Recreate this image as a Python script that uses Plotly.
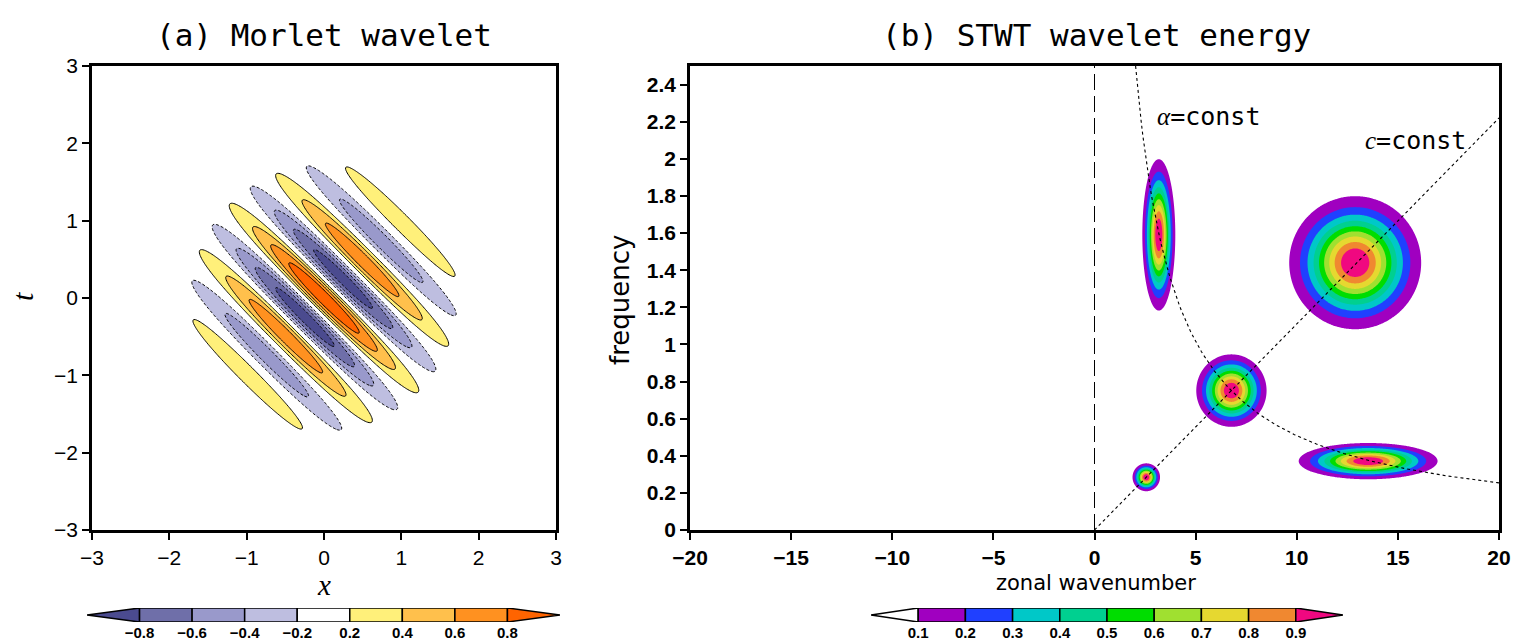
import numpy as np
import plotly.graph_objects as go

W, H = 1516, 640

# ---------------- panel (a): Morlet wavelet ----------------
morlet_ticks = [-3, -2, -1, 0, 1, 2, 3]
morlet_wavenumber = 2 * np.pi          # phase runs along (x + t)
morlet_sigma = 0.96                    # gaussian envelope width
morlet_cbar_labels = ["−0.8", "−0.6", "−0.4", "−0.2", "0.2", "0.4", "0.6", "0.8"]
# colour of each band: <-0.8, -0.8..-0.6, -0.6..-0.4, -0.4..-0.2, -0.2..0.2, 0.2..0.4, 0.4..0.6, 0.6..0.8, >0.8
morlet_band_colors = ["#4b4b8f", "#6f6fa9", "#9999cb", "#bebee0", "#ffffff",
                      "#fff07a", "#ffc04c", "#ff9120", "#ff6400"]

# ---------------- panel (b): STWT wavelet energy ----------------
blob_k = [2.56, 6.77, 13.53, 3.18, 12.89]        # centre wavenumber
blob_f = [0.284, 0.751, 0.371, 1.59, 1.44]       # centre frequency
blob_sk = [0.317, 0.81, 1.60, 0.38, 1.52]        # width in wavenumber
blob_sf = [0.035, 0.091, 0.0455, 0.19, 0.167]    # width in frequency
energy_cbar_labels = ["0.1", "0.2", "0.3", "0.4", "0.5", "0.6", "0.7", "0.8", "0.9"]
# <0.1, 0.1..0.2, ..., 0.8..0.9, >0.9
energy_band_colors = ["#ffffff", "#a000c0", "#2040ff", "#00c8c8", "#00d090",
                      "#00dd00", "#a0e030", "#e6d830", "#f08830", "#f00880"]
c_const = 0.111          # phase speed line  f = c k
alpha_const = 5.08       # scale line        f = alpha / k
x_ticks_b = [-20, -15, -10, -5, 0, 5, 10, 15, 20]

fig = go.Figure()

# ---- panel (a) contours ----
xs = np.linspace(-3, 3, 361)
ts = np.linspace(-3, 3, 361)
X, T = np.meshgrid(xs, ts)
Z = np.cos(morlet_wavenumber * (X + T)) * np.exp(-(X**2 + T**2) / (2 * morlet_sigma**2))
Z = np.round(Z, 4)

fill_cols_a = morlet_band_colors[:4] + ["#ffffff", "#ffffff"] + morlet_band_colors[5:]
nca = len(fill_cols_a) - 1
fig.add_trace(go.Contour(
    x=xs, y=ts, z=Z, xaxis="x", yaxis="y",
    autocontour=False, contours=dict(start=-0.8, end=0.8, size=0.2, coloring="fill", showlines=False),
    colorscale=[[i / nca, c] for i, c in enumerate(fill_cols_a)],
    showscale=False, line=dict(width=0), hoverinfo="skip"))
fig.add_trace(go.Contour(
    x=xs, y=ts, z=Z, xaxis="x", yaxis="y",
    autocontour=False, contours=dict(start=0.2, end=0.8, size=0.2, coloring="none"),
    line=dict(color="black", width=1), showscale=False, hoverinfo="skip"))
fig.add_trace(go.Contour(
    x=xs, y=ts, z=Z, xaxis="x", yaxis="y",
    autocontour=False, contours=dict(start=-0.8, end=-0.2, size=0.2, coloring="none"),
    line=dict(color="black", width=1, dash="3px,2px"), showscale=False, hoverinfo="skip"))

# ---- panel (b) energy blobs ----
fill_cols_b = ["rgba(255,255,255,0)"] + energy_band_colors[1:]
ncb = len(fill_cols_b) - 1
for k0, f0, sk, sf in zip(blob_k, blob_f, blob_sk, blob_sf):
    kk = np.linspace(k0 - 2.6 * sk, k0 + 2.6 * sk, 181)
    ff = np.linspace(f0 - 2.6 * sf, f0 + 2.6 * sf, 181)
    KK, FF = np.meshgrid(kk, ff)
    E = np.exp(-0.5 * (((KK - k0) / sk) ** 2 + ((FF - f0) / sf) ** 2))
    fig.add_trace(go.Contour(
        x=kk, y=ff, z=np.round(E, 4), xaxis="x2", yaxis="y2",
        autocontour=False, contours=dict(start=0.1, end=0.9, size=0.1, coloring="fill", showlines=False),
        colorscale=[[i / ncb, c] for i, c in enumerate(fill_cols_b)],
        showscale=False, line=dict(width=0), hoverinfo="skip"))

# guide lines
fig.add_trace(go.Scatter(x=[0, 0], y=[0, 2.5], mode="lines", xaxis="x2", yaxis="y2",
                         line=dict(color="black", width=1, dash="16px,6px"), hoverinfo="skip", showlegend=False))
k_line = np.array([0, 20])
fig.add_trace(go.Scatter(x=k_line, y=c_const * k_line, mode="lines", xaxis="x2", yaxis="y2",
                         line=dict(color="black", width=1.1, dash="3px,3px"), hoverinfo="skip", showlegend=False))
k_hyp = np.linspace(alpha_const / 2.5, 20, 200)
fig.add_trace(go.Scatter(x=k_hyp, y=alpha_const / k_hyp, mode="lines", xaxis="x2", yaxis="y2",
                         line=dict(color="black", width=1.1, dash="3px,3px"), hoverinfo="skip", showlegend=False))

# ---- layout ----
def px_x(a, b):
    return [a / W, b / W]

def px_y(top, bottom):
    return [(H - bottom) / H, (H - top) / H]

tick_font_a = dict(family="Liberation Sans", size=21, color="black")
tick_font_b = dict(family="Liberation Sans", size=21, color="black", weight="bold")
axis_common = dict(showline=True, linewidth=2.5, linecolor="black", mirror=True,
                   ticks="outside", ticklen=7, tickwidth=1.5, tickcolor="black",
                   showgrid=False, zeroline=False, automargin=False)
cb_font = dict(family="Liberation Sans", size=15, color="black", weight="bold")

fig.update_layout(
    width=W, height=H, margin=dict(l=0, r=0, t=0, b=0, autoexpand=False),
    paper_bgcolor="white", plot_bgcolor="white", showlegend=False,
    xaxis=dict(domain=px_x(92, 556), range=[-3, 3], tickvals=morlet_ticks, anchor="y",
               tickfont=tick_font_a, **axis_common),
    yaxis=dict(domain=px_y(66, 530), range=[-3, 3], tickvals=morlet_ticks, anchor="x",
               tickfont=tick_font_a, **axis_common),
    xaxis2=dict(domain=px_x(690, 1499), range=[-20, 20], tickvals=x_ticks_b, anchor="y2",
                tickfont=tick_font_b, **axis_common),
    yaxis2=dict(domain=px_y(66, 530), range=[0, 2.5], tick0=0, dtick=0.2, anchor="x2",
                tickfont=tick_font_b, **axis_common),
    xaxis3=dict(domain=px_x(87, 560), range=[-1, len(morlet_cbar_labels)], anchor="y3",
                tickvals=list(range(len(morlet_cbar_labels))), ticktext=morlet_cbar_labels,
                showline=False, showgrid=False, zeroline=False, ticks="", ticklabelstandoff=0,
                automargin=False, tickfont=cb_font),
    yaxis3=dict(domain=px_y(608, 622), range=[0, 1], anchor="x3", visible=False, automargin=False),
    xaxis4=dict(domain=px_x(871, 1343), range=[-1, len(energy_cbar_labels)], anchor="y4",
                tickvals=list(range(len(energy_cbar_labels))), ticktext=energy_cbar_labels,
                showline=False, showgrid=False, zeroline=False, ticks="", ticklabelstandoff=0,
                automargin=False, tickfont=cb_font),
    yaxis4=dict(domain=px_y(608, 622), range=[0, 1], anchor="x4", visible=False, automargin=False),
)

# colorbars built from the level lists
def add_colorbar(xa, ya, colors):
    n = len(colors) - 2
    lw = dict(color="black", width=1.5)
    fig.add_shape(type="path", path="M 0,0 L -1,0.5 L 0,1 Z", xref=xa, yref=ya,
                  fillcolor=colors[0], line=lw)
    for i in range(n):
        fig.add_shape(type="rect", x0=i, x1=i + 1, y0=0, y1=1, xref=xa, yref=ya,
                      fillcolor=colors[i + 1], line=lw)
    fig.add_shape(type="path", path=f"M {n},0 L {n + 1},0.5 L {n},1 Z", xref=xa, yref=ya,
                  fillcolor=colors[-1], line=lw)

add_colorbar("x3", "y3", morlet_band_colors)
add_colorbar("x4", "y4", energy_band_colors)

title_font = dict(family="DejaVu Sans Mono", size=31, color="black")
ann = [
    dict(text="(a) Morlet wavelet", x=324 / W, y=(H - 35) / H, font=title_font),
    dict(text="(b) STWT wavelet energy", x=1096 / W, y=(H - 35) / H, font=title_font),
    dict(text="<i>x</i>", x=324 / W, y=(H - 585) / H,
         font=dict(family="Liberation Serif", size=29, color="black")),
    dict(text="<i>t</i>", x=22 / W, y=(H - 297) / H, textangle=-90,
         font=dict(family="Liberation Serif", size=30, color="black")),
    dict(text="zonal wavenumber", x=1096 / W, y=(H - 583) / H,
         font=dict(family="DejaVu Sans", size=21, color="black")),
    dict(text="frequency", x=620 / W, y=(H - 300) / H, textangle=-90,
         font=dict(family="DejaVu Sans", size=26, color="black")),
]
for a in ann:
    fig.add_annotation(xref="paper", yref="paper", showarrow=False,
                       xanchor="center", yanchor="middle", **a)

const_font = dict(family="DejaVu Sans Mono", size=25, color="black")
fig.add_annotation(xref="x2", yref="y2", x=3.0, y=2.23, xanchor="left", yanchor="middle",
                   showarrow=False, font=const_font,
                   text="<span style='font-family:Liberation Serif'><i>α</i></span>=const")
fig.add_annotation(xref="x2", yref="y2", x=13.3, y=2.10, xanchor="left", yanchor="middle",
                   showarrow=False, font=const_font,
                   text="<span style='font-family:Liberation Serif'><i>c</i></span>=const")

fig.write_html("out.html")
